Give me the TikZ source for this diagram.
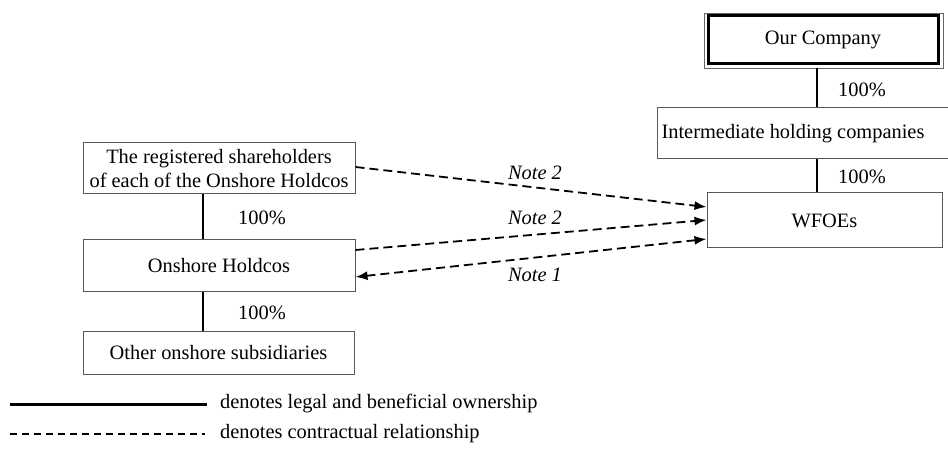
\documentclass[tikz,border=0pt]{standalone}
\usepackage{fontspec}
\setmainfont{Liberation Serif}
\usetikzlibrary{arrows.meta,calc}
\begin{document}
\begin{tikzpicture}[x=1pt,y=-1pt,
  box/.style={draw=black!65,line width=1pt,inner sep=0pt,minimum width=#1},
  own/.style={line width=2.3pt,black},
  contract/.style={line width=1.8pt,dash pattern=on 9pt off 5pt,-{Latex[length=12pt,width=9pt]}},
  pct/.style={inner sep=0pt},
  note/.style={inner sep=0pt,font=\itshape}]
\useasboundingbox (0,0) rectangle (948,454);
\clip (0,0) rectangle (948,454);
\fontsize{20.4}{24}\selectfont
% right column
\node[box=230pt,minimum height=48pt,draw=black,line width=3pt] (oc) at (823,40) {Our Company};
\node[draw=black!60,line width=0.8pt,inner sep=0pt,minimum width=239pt,minimum height=55pt] (ocout) at (823.5,40.5) {};
\node[box=298pt,minimum height=51pt] (inter) at (806,133.5) {};
\node[inner sep=0pt] (intertxt) at (793,133.5) {Intermediate holding companies};
\node[box=235pt,minimum height=55pt] (wfoe) at (824.5,220.5) {WFOEs};
\coordinate (rv) at (817,0);
\draw[own] (ocout.south -| rv) -- (inter.north -| rv);
\draw[own] (inter.south -| rv) -- (wfoe.north -| rv);
\node[pct] (p1) at (862,90) {100\%};
\node[pct] (p2) at (862,177) {100\%};
% left column
\node[box=272pt,minimum height=51pt,align=center] (sh) at (219,168.5) {The registered shareholders\\of each of the Onshore Holdcos};
\node[box=272pt,minimum height=52pt] (on) at (219,266) {Onshore Holdcos};
\node[box=271pt,minimum height=42pt] (oth) at (218.5,353) {Other onshore subsidiaries};
\coordinate (lv) at (203,0);
\draw[own] (sh.south -| lv) -- (on.north -| lv);
\draw[own] (on.south -| lv) -- (oth.north -| lv);
\node[pct] (p3) at (262,218) {100\%};
\node[pct] (p4) at (262,313) {100\%};
% contractual arrows
\draw[contract] ($(sh.east)+(0,-1.5)$) -- ($(wfoe.west)+(0,-13.5)$);
\draw[contract] ($(on.east)+(0,-16)$) -- ($(wfoe.west)+(0,-0.5)$);
\draw[contract,{Latex[length=12pt,width=9pt]}-{Latex[length=12pt,width=9pt]}] ($(wfoe.west)+(0,18.5)$) -- ($(on.east)+(0,11)$);
\node[note] (n1) at (535,173) {Note 2};
\node[note] (n2) at (535,218) {Note 2};
\node[note] (n3) at (535,275) {Note 1};
% legend
\coordinate (l1a) at (10,404);
\coordinate (l1b) at (207,404);
\coordinate (l2a) at (10,434);
\coordinate (l2b) at (205,434);
\draw[line width=3pt] (l1a) -- (l1b);
\draw[line width=1.3pt,dash pattern=on 7pt off 5pt] (l2a) -- (l2b);
\node[anchor=west,inner sep=0pt] (t1) at (220,404) {denotes legal and beneficial ownership};
\node[anchor=west,inner sep=0pt] (t2) at (220,434) {denotes contractual relationship};
\end{tikzpicture}
\end{document}
